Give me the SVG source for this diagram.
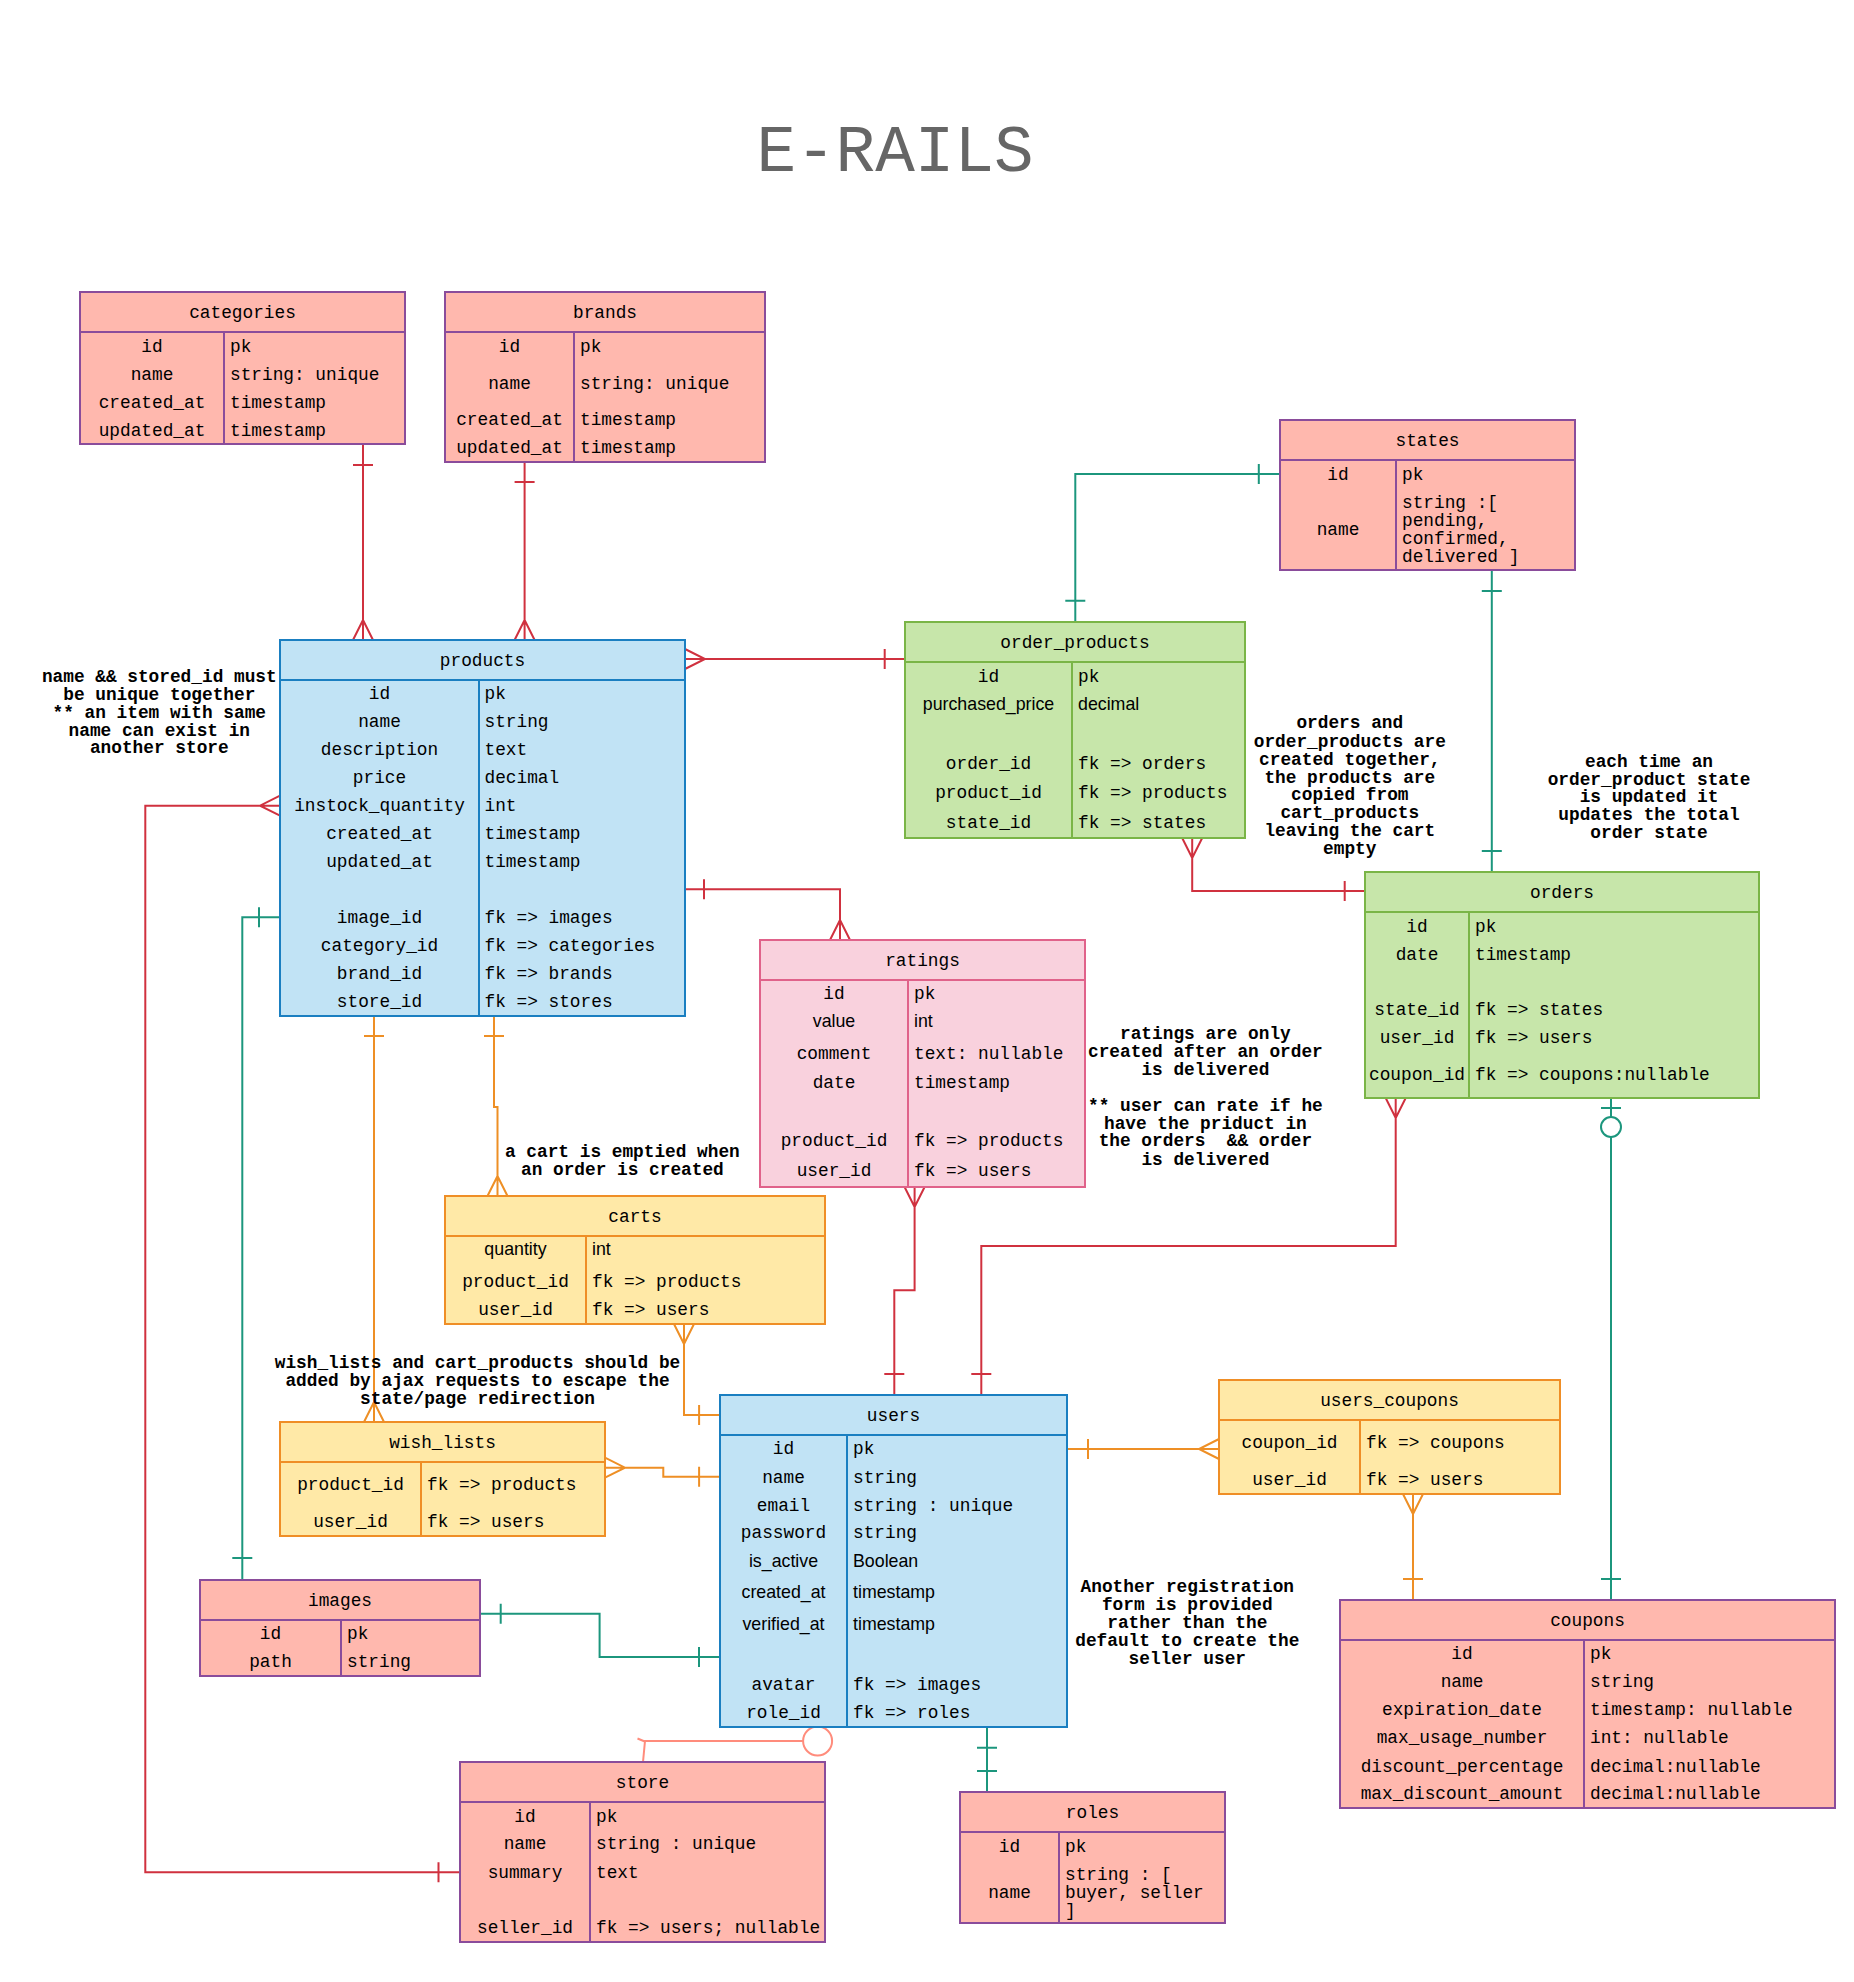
<svg xmlns="http://www.w3.org/2000/svg" width="1854" height="1982" viewBox="0 0 1854 1982">
<style>
.sal{fill:#FFB8AE;stroke:#8A4C9B;stroke-width:2}
.blu{fill:#C1E3F5;stroke:#1A7FC1;stroke-width:2}
.grn{fill:#C7E6AA;stroke:#7AB547;stroke-width:2}
.yel{fill:#FFE9A7;stroke:#EF8E26;stroke-width:2}
.pnk{fill:#F9D1DD;stroke:#E0628A;stroke-width:2}
text{font-family:"Liberation Mono","DejaVu Sans Mono",monospace;font-size:17.8px;fill:#000}
.s{font-family:"Liberation Sans",Arial,sans-serif}
.c{text-anchor:middle}
.n{font-weight:bold;text-anchor:middle;white-space:pre}
.title{font-size:66px;fill:#666666;text-anchor:middle}
.cn path{fill:none;stroke-width:2}
.red path{stroke:#D0313F}
.teal path{stroke:#1C967D}
.org path{stroke:#EE8F25}
.salc path{stroke:#FF8C7C}
</style>
<rect width="1854" height="1982" fill="#ffffff"/>
<text class="title" x="895" y="171">E-RAILS</text>

<g id="connectors" class="cn">
 <g class="red">
  <path d="M363,444 V640 M353,465 H373 M353,640 L363,620 L373,640"/>
  <path d="M524.6,462 V640 M514.6,482 H534.6 M514.6,640 L524.6,620 L534.6,640"/>
  <path d="M685,659 H905 M685,649 L705,659 L685,669 M884.7,649 V669"/>
  <path d="M685,889.3 H840 V940 M704,879.3 V899.3 M830,940 L840,920 L850,940"/>
  <path d="M460,1872.3 H145.3 V805.7 H280 M438.5,1862.3 V1882.3 M280,795.7 L260,805.7 L280,815.7"/>
  <path d="M1192.2,838 V891 H1365 M1182.2,838 L1192.2,858 L1202.2,838 M1344.7,881 V901"/>
  <path d="M914.6,1187 V1290.3 H894.3 V1395 M904.6,1187 L914.6,1207 L924.6,1187 M884.3,1374 H904.3"/>
  <path d="M1395.7,1098 V1246 H981.3 V1395 M1385.7,1098 L1395.7,1118 L1405.7,1098 M971.3,1374 H991.3"/>
 </g>
 <g class="teal">
  <path d="M1280,474 H1075.3 V622 M1258.8,464 V484 M1065.3,600.7 H1085.3"/>
  <path d="M1491.8,570 V872 M1481.8,591 H1501.8 M1481.8,851 H1501.8"/>
  <path d="M242.3,1580 V917.3 H280 M259,907.3 V927.3 M232.3,1558 H252.3"/>
  <path d="M480,1613.7 H599.6 V1657 H720 M500.7,1603.7 V1623.7 M699,1647 V1667"/>
  <path d="M1611,1098 V1117 M1611,1137 V1600 M1601,1108 H1621 M1601,1579 H1621"/>
  <circle cx="1611" cy="1127" r="10" fill="#ffffff" stroke="#1C967D" stroke-width="2"/>
  <path d="M987,1727 V1792 M977,1747.7 H997 M977,1771 H997"/>
 </g>
 <g class="org">
  <path d="M374,1016 V1422 M364,1036 H384 M364,1422 L374,1402 L384,1422"/>
  <path d="M494,1016 V1107 H497.5 V1196 M484,1036 H504 M487.5,1196 L497.5,1176 L507.5,1196"/>
  <path d="M684,1324 V1415 H720 M674,1324 L684,1344 L694,1324 M699.1,1405 V1425"/>
  <path d="M605,1467.7 H663.3 V1476.7 H720 M605,1457.7 L625,1467.7 L605,1477.7 M699.1,1466.7 V1486.7"/>
  <path d="M1067,1449 H1219 M1088,1439 V1459 M1219,1439 L1199,1449 L1219,1459"/>
  <path d="M1413,1494 V1600 M1403,1494 L1413,1514 L1423,1494 M1403,1579 H1423"/>
 </g>
 <g class="salc">
  <path d="M803,1741 H645 L643,1762 M637.5,1738.5 L646,1742"/>
  <circle cx="817.6" cy="1741" r="14.5" fill="#ffffff" stroke="#FF8C7C" stroke-width="2"/>
 </g>
</g>

<g id="categories">
 <rect class="sal" x="80" y="292" width="325" height="152"/>
 <path class="sal" d="M80,332 H405 M224,332 V444"/>
 <text class="c" x="242.5" y="318">categories</text>
 <text class="c" x="152" y="352">id</text><text x="230" y="352">pk</text>
 <text class="c" x="152" y="380">name</text><text x="230" y="380">string: unique</text>
 <text class="c" x="152" y="408">created_at</text><text x="230" y="408">timestamp</text>
 <text class="c" x="152" y="436">updated_at</text><text x="230" y="436">timestamp</text>
</g>

<g id="brands">
 <rect class="sal" x="445" y="292" width="320" height="170"/>
 <path class="sal" d="M445,332 H765 M574,332 V462"/>
 <text class="c" x="605" y="318">brands</text>
 <text class="c" x="509.5" y="352">id</text><text x="580" y="352">pk</text>
 <text class="c" x="509.5" y="389">name</text><text x="580" y="389">string: unique</text>
 <text class="c" x="509.5" y="425">created_at</text><text x="580" y="425">timestamp</text>
 <text class="c" x="509.5" y="453">updated_at</text><text x="580" y="453">timestamp</text>
</g>

<g id="products">
 <rect class="blu" x="280" y="640" width="405" height="376"/>
 <path class="blu" d="M280,680 H685 M479,680 V1016"/>
 <text class="c" x="482.5" y="666">products</text>
 <text class="c" x="379.5" y="699">id</text><text x="484.5" y="699">pk</text>
 <text class="c" x="379.5" y="727">name</text><text x="484.5" y="727">string</text>
 <text class="c" x="379.5" y="755">description</text><text x="484.5" y="755">text</text>
 <text class="c" x="379.5" y="783">price</text><text x="484.5" y="783">decimal</text>
 <text class="c" x="379.5" y="811">instock_quantity</text><text x="484.5" y="811">int</text>
 <text class="c" x="379.5" y="839">created_at</text><text x="484.5" y="839">timestamp</text>
 <text class="c" x="379.5" y="867">updated_at</text><text x="484.5" y="867">timestamp</text>
 <text class="c" x="379.5" y="923">image_id</text><text x="484.5" y="923">fk =&gt; images</text>
 <text class="c" x="379.5" y="951">category_id</text><text x="484.5" y="951">fk =&gt; categories</text>
 <text class="c" x="379.5" y="979">brand_id</text><text x="484.5" y="979">fk =&gt; brands</text>
 <text class="c" x="379.5" y="1007">store_id</text><text x="484.5" y="1007">fk =&gt; stores</text>
</g>

<g id="order_products">
 <rect class="grn" x="905" y="622" width="340" height="216"/>
 <path class="grn" d="M905,662 H1245 M1072,662 V838"/>
 <text class="c" x="1075" y="648">order_products</text>
 <text class="c" x="988.5" y="682">id</text><text x="1078" y="682">pk</text>
 <text class="c s" x="988.5" y="710">purchased_price</text><text class="s" x="1078" y="710">decimal</text>
 <text class="c" x="988.5" y="769">order_id</text><text x="1078" y="769">fk =&gt; orders</text>
 <text class="c" x="988.5" y="798">product_id</text><text x="1078" y="798">fk =&gt; products</text>
 <text class="c" x="988.5" y="828">state_id</text><text x="1078" y="828">fk =&gt; states</text>
</g>

<g id="states">
 <rect class="sal" x="1280" y="420" width="295" height="150"/>
 <path class="sal" d="M1280,460 H1575 M1396,460 V570"/>
 <text class="c" x="1427.5" y="446">states</text>
 <text class="c" x="1338" y="480">id</text><text x="1402" y="480">pk</text>
 <text class="c" x="1338" y="535">name</text>
 <text x="1402" y="508">string :[</text>
 <text x="1402" y="526">pending,</text>
 <text x="1402" y="544">confirmed,</text>
 <text x="1402" y="562">delivered ]</text>
</g>

<g id="orders">
 <rect class="grn" x="1365" y="872" width="394" height="226"/>
 <path class="grn" d="M1365,912 H1759 M1469,912 V1098"/>
 <text class="c" x="1562" y="898">orders</text>
 <text class="c" x="1417" y="932">id</text><text x="1475" y="932">pk</text>
 <text class="c" x="1417" y="960">date</text><text x="1475" y="960">timestamp</text>
 <text class="c" x="1417" y="1015">state_id</text><text x="1475" y="1015">fk =&gt; states</text>
 <text class="c" x="1417" y="1043">user_id</text><text x="1475" y="1043">fk =&gt; users</text>
 <text class="c" x="1417" y="1080">coupon_id</text><text x="1475" y="1080">fk =&gt; coupons:nullable</text>
</g>

<g id="ratings">
 <rect class="pnk" x="760" y="940" width="325" height="247"/>
 <path class="pnk" d="M760,980 H1085 M908,980 V1187"/>
 <text class="c" x="922.5" y="966">ratings</text>
 <text class="c" x="834" y="999">id</text><text x="914" y="999">pk</text>
 <text class="c s" x="834" y="1027">value</text><text class="s" x="914" y="1027">int</text>
 <text class="c" x="834" y="1059">comment</text><text x="914" y="1059">text: nullable</text>
 <text class="c" x="834" y="1088">date</text><text x="914" y="1088">timestamp</text>
 <text class="c" x="834" y="1146">product_id</text><text x="914" y="1146">fk =&gt; products</text>
 <text class="c" x="834" y="1176">user_id</text><text x="914" y="1176">fk =&gt; users</text>
</g>

<g id="carts">
 <rect class="yel" x="445" y="1196" width="380" height="128"/>
 <path class="yel" d="M445,1236 H825 M586,1236 V1324"/>
 <text class="c" x="635" y="1222">carts</text>
 <text class="c s" x="515.5" y="1255">quantity</text><text class="s" x="592" y="1255">int</text>
 <text class="c" x="515.5" y="1287">product_id</text><text x="592" y="1287">fk =&gt; products</text>
 <text class="c" x="515.5" y="1315">user_id</text><text x="592" y="1315">fk =&gt; users</text>
</g>

<g id="wish_lists">
 <rect class="yel" x="280" y="1422" width="325" height="114"/>
 <path class="yel" d="M280,1462 H605 M421,1462 V1536"/>
 <text class="c" x="442.5" y="1448">wish_lists</text>
 <text class="c" x="350.5" y="1490">product_id</text><text x="427" y="1490">fk =&gt; products</text>
 <text class="c" x="350.5" y="1527">user_id</text><text x="427" y="1527">fk =&gt; users</text>
</g>

<g id="users">
 <rect class="blu" x="720" y="1395" width="347" height="332"/>
 <path class="blu" d="M720,1435 H1067 M847,1435 V1727"/>
 <text class="c" x="893.5" y="1421">users</text>
 <text class="c" x="783.5" y="1454">id</text><text x="853" y="1454">pk</text>
 <text class="c" x="783.5" y="1483">name</text><text x="853" y="1483">string</text>
 <text class="c" x="783.5" y="1511">email</text><text x="853" y="1511">string : unique</text>
 <text class="c" x="783.5" y="1538">password</text><text x="853" y="1538">string</text>
 <text class="c s" x="783.5" y="1567">is_active</text><text class="s" x="853" y="1567">Boolean</text>
 <text class="c s" x="783.5" y="1598">created_at</text><text class="s" x="853" y="1598">timestamp</text>
 <text class="c s" x="783.5" y="1630">verified_at</text><text class="s" x="853" y="1630">timestamp</text>
 <text class="c" x="783.5" y="1690">avatar</text><text x="853" y="1690">fk =&gt; images</text>
 <text class="c" x="783.5" y="1718">role_id</text><text x="853" y="1718">fk =&gt; roles</text>
</g>

<g id="users_coupons">
 <rect class="yel" x="1219" y="1380" width="341" height="114"/>
 <path class="yel" d="M1219,1420 H1560 M1360,1420 V1494"/>
 <text class="c" x="1389.5" y="1406">users_coupons</text>
 <text class="c" x="1289.5" y="1448">coupon_id</text><text x="1366" y="1448">fk =&gt; coupons</text>
 <text class="c" x="1289.5" y="1485">user_id</text><text x="1366" y="1485">fk =&gt; users</text>
</g>

<g id="coupons">
 <rect class="sal" x="1340" y="1600" width="495" height="208"/>
 <path class="sal" d="M1340,1640 H1835 M1584,1640 V1808"/>
 <text class="c" x="1587.5" y="1626">coupons</text>
 <text class="c" x="1462" y="1659">id</text><text x="1590" y="1659">pk</text>
 <text class="c" x="1462" y="1687">name</text><text x="1590" y="1687">string</text>
 <text class="c" x="1462" y="1715">expiration_date</text><text x="1590" y="1715">timestamp: nullable</text>
 <text class="c" x="1462" y="1743">max_usage_number</text><text x="1590" y="1743">int: nullable</text>
 <text class="c" x="1462" y="1772">discount_percentage</text><text x="1590" y="1772">decimal:nullable</text>
 <text class="c" x="1462" y="1799">max_discount_amount</text><text x="1590" y="1799">decimal:nullable</text>
</g>

<g id="images">
 <rect class="sal" x="200" y="1580" width="280" height="96"/>
 <path class="sal" d="M200,1620 H480 M341,1620 V1676"/>
 <text class="c" x="340" y="1606">images</text>
 <text class="c" x="270.5" y="1639">id</text><text x="347" y="1639">pk</text>
 <text class="c" x="270.5" y="1667">path</text><text x="347" y="1667">string</text>
</g>

<g id="store">
 <rect class="sal" x="460" y="1762" width="365" height="180"/>
 <path class="sal" d="M460,1802 H825 M590,1802 V1942"/>
 <text class="c" x="642.5" y="1788">store</text>
 <text class="c" x="525" y="1822">id</text><text x="596" y="1822">pk</text>
 <text class="c" x="525" y="1849">name</text><text x="596" y="1849">string : unique</text>
 <text class="c" x="525" y="1878">summary</text><text x="596" y="1878">text</text>
 <text class="c" x="525" y="1933">seller_id</text><text x="596" y="1933">fk =&gt; users; nullable</text>
</g>

<g id="roles">
 <rect class="sal" x="960" y="1792" width="265" height="131"/>
 <path class="sal" d="M960,1832 H1225 M1059,1832 V1923"/>
 <text class="c" x="1092.5" y="1818">roles</text>
 <text class="c" x="1009.5" y="1852">id</text><text x="1065" y="1852">pk</text>
 <text class="c" x="1009.5" y="1898">name</text>
 <text x="1065" y="1880">string : [</text>
 <text x="1065" y="1898">buyer, seller</text>
 <text x="1065" y="1916">]</text>
</g>

<g id="notes">
 <text class="n" x="159.3" y="682">name &amp;&amp; stored_id must</text>
 <text class="n" x="159.3" y="700">be unique together</text>
 <text class="n" x="159.3" y="718">** an item with same</text>
 <text class="n" x="159.3" y="736">name can exist in</text>
 <text class="n" x="159.3" y="753">another store</text>

 <text class="n" x="1349.8" y="728">orders and</text>
 <text class="n" x="1349.8" y="747">order_products are</text>
 <text class="n" x="1349.8" y="765">created together,</text>
 <text class="n" x="1349.8" y="783">the products are</text>
 <text class="n" x="1349.8" y="800">copied from</text>
 <text class="n" x="1349.8" y="818">cart_products</text>
 <text class="n" x="1349.8" y="836">leaving the cart</text>
 <text class="n" x="1349.8" y="854">empty</text>

 <text class="n" x="1649" y="767">each time an</text>
 <text class="n" x="1649" y="785">order_product state</text>
 <text class="n" x="1649" y="802">is updated it</text>
 <text class="n" x="1649" y="820">updates the total</text>
 <text class="n" x="1649" y="838">order state</text>

 <text class="n" x="1205.4" y="1039">ratings are only</text>
 <text class="n" x="1205.4" y="1057">created after an order</text>
 <text class="n" x="1205.4" y="1075">is delivered</text>
 <text class="n" x="1205.4" y="1111">** user can rate if he</text>
 <text class="n" x="1205.4" y="1129">have the priduct in</text>
 <text class="n" x="1205.4" y="1146">the orders  &amp;&amp; order</text>
 <text class="n" x="1205.4" y="1165">is delivered</text>

 <text class="n" x="622.4" y="1157">a cart is emptied when</text>
 <text class="n" x="622.4" y="1175">an order is created</text>

 <text class="n" x="477.5" y="1368">wish_lists and cart_products should be</text>
 <text class="n" x="477.5" y="1386">added by ajax requests to escape the</text>
 <text class="n" x="477.5" y="1404">state/page redirection</text>

 <text class="n" x="1187.3" y="1592">Another registration</text>
 <text class="n" x="1187.3" y="1610">form is provided</text>
 <text class="n" x="1187.3" y="1628">rather than the</text>
 <text class="n" x="1187.3" y="1646">default to create the</text>
 <text class="n" x="1187.3" y="1664">seller user</text>
</g>
</svg>
